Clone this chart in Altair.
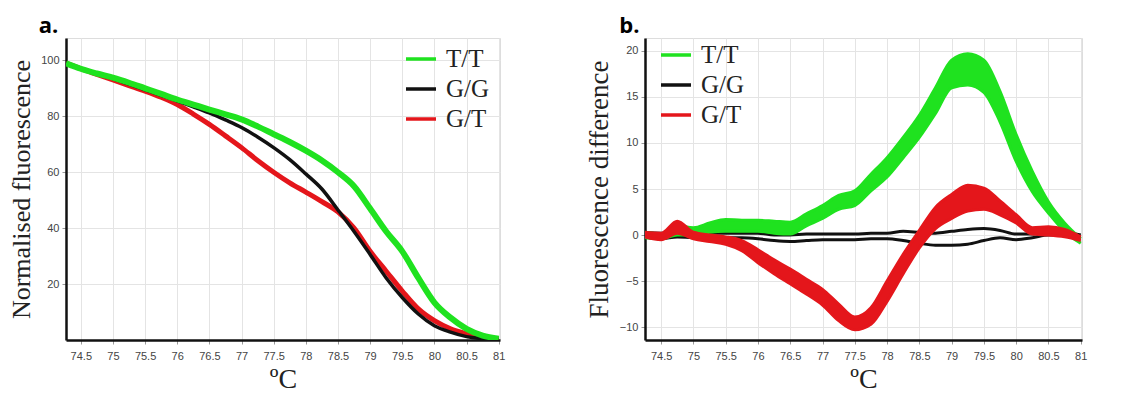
import altair as alt
import pandas as pd

# ---------------- data ----------------
GENOS = ["T/T", "G/G", "G/T"]
COLORS = ["#1fe21f", "#111111", "#e4161b"]

# Panel a: normalised fluorescence
X_A = [74.27, 74.5, 74.75, 75.0, 75.25, 75.5, 75.75, 76.0, 76.25, 76.5, 76.75, 77.0, 77.25, 77.5,
       77.75, 78.0, 78.25, 78.5, 78.75, 79.0, 79.25, 79.5, 79.75, 80.0, 80.25, 80.5, 80.75, 81.0]
TT_A = [99, 97, 95.3, 93.8, 92, 90, 88, 86, 84.2, 82.4, 80.7, 78.9, 76.4, 73.6,
        70.8, 67.7, 64.2, 60, 55, 47, 38.8, 31.7, 22.2, 13.4, 8, 4, 1.6, 0.5]
GG_A = [99, 97, 95.2, 93.5, 91.5, 89.5, 87.5, 85.5, 83.4, 81.2, 78.7, 76, 72.6, 68.8,
        64.5, 59.4, 54, 46.5, 38.8, 30.6, 22.2, 15.2, 9.3, 5.1, 2.8, 1.2, 0.5, 0.3]
GT_A = [99, 97, 95, 93, 91, 89, 86.8, 84.2, 80.8, 77.1, 73, 68.8, 64.2, 60,
        56.2, 52.9, 49.5, 45.8, 40, 31.7, 24.6, 17.5, 11.1, 6.9, 4, 2.2, 0.8, 0.3]

# Panel b: fluorescence difference (upper / lower edge of each replicate band)
X_B = [74.25, 74.5, 74.75, 75.0, 75.25, 75.5, 75.75, 76.0, 76.25, 76.5, 76.75, 77.0, 77.25, 77.5,
       77.75, 78.0, 78.25, 78.5, 78.75, 79.0, 79.25, 79.5, 79.75, 80.0, 80.25, 80.5, 80.75, 81.0]
TT_B_UP = [0.3, 0.1, 1.0, 0.8, 1.3, 1.7, 1.6, 1.6, 1.5, 1.4, 2.3, 3.2, 4.3, 4.8,
           6.6, 8.4, 10.6, 13.0, 16.0, 19.0, 19.7, 19.0, 15.6, 10.9, 6.9, 3.6, 1.3, -0.4]
TT_B_LO = [-0.3, -0.4, 0.0, 0.0, 0.3, 0.4, 0.4, 0.4, 0.2, 0.1, 1.0, 1.8, 2.8, 3.2,
           4.8, 6.3, 8.4, 10.6, 13.2, 16.0, 16.3, 15.5, 12.3, 8.0, 4.7, 2.4, 0.4, -0.9]
GT_B_UP = [0.3, 0.2, 1.5, 0.3, 0.0, -0.2, -0.6, -1.6, -2.7, -3.7, -4.8, -5.9, -7.5, -8.9,
           -7.9, -5.0, -2.1, 0.5, 3.0, 4.4, 5.4, 5.1, 3.7, 2.2, 0.8, 0.9, 0.6, -0.2]
GT_B_LO = [-0.2, -0.5, 0.2, -0.4, -0.7, -1.0, -1.7, -3.0, -4.2, -5.3, -6.4, -7.6, -9.3, -10.3,
           -9.7, -7.2, -4.2, -1.4, 0.7, 1.8, 2.6, 2.8, 2.2, 1.3, 0.1, 0.0, -0.2, -0.6]
GG_B_UP = [0.3, 0.2, 0.3, 0.2, 0.2, 0.2, 0.2, 0.2, 0.0, 0.0, 0.1, 0.1, 0.1, 0.1,
           0.2, 0.2, 0.4, 0.3, 0.2, 0.4, 0.6, 0.7, 0.5, 0.1, 0.1, 0.6, 0.4, 0.0]
GG_B_LO = [-0.2, -0.4, -0.2, -0.3, -0.3, -0.3, -0.3, -0.4, -0.6, -0.7, -0.6, -0.5, -0.5, -0.5,
           -0.4, -0.4, -0.6, -0.9, -1.1, -1.1, -1.0, -0.6, -0.3, -0.5, -0.3, 0.0, 0.0, -0.3]

X_TICKS = [74.5, 75, 75.5, 76, 76.5, 77, 77.5, 78, 78.5, 79, 79.5, 80, 80.5, 81]
Y_TICKS_A = [20, 40, 60, 80, 100]
Y_TICKS_B = [-10, -5, 0, 5, 10, 15, 20]

# ---------------- tables ----------------
rows_a = []
for g, ys in zip(GENOS, [TT_A, GG_A, GT_A]):
    for x, y in zip(X_A, ys):
        rows_a.append({"x": x, "y": y, "g": g})
df_a = pd.DataFrame(rows_a)

rows_b = []
band_rows = []
for g, up, lo in zip(GENOS, [TT_B_UP, GG_B_UP, GT_B_UP], [TT_B_LO, GG_B_LO, GT_B_LO]):
    for x, u, l in zip(X_B, up, lo):
        rows_b.append({"x": x, "y": u, "g": g, "edge": "up"})
        rows_b.append({"x": x, "y": l, "g": g, "edge": "lo"})
        band_rows.append({"x": x, "u": u, "l": l, "g": g})
df_b = pd.DataFrame(rows_b)
df_band = pd.DataFrame(band_rows)

# ---------------- styling ----------------
SERIF = "Liberation Serif"
TICKFONT = "Liberation Sans Narrow, Liberation Sans"
color_scale = alt.Scale(domain=GENOS, range=COLORS)


def legend(lx, ly):
    return alt.Legend(title=None, orient="none", legendX=lx, legendY=ly,
                      symbolType="stroke", symbolSize=900, symbolStrokeWidth=3.5,
                      labelFont=SERIF, labelFontSize=25, labelColor="#222",
                      rowPadding=0, labelOffset=8, symbolOpacity=1)


def x_axis():
    return alt.Axis(values=X_TICKS, format="~f", title="ºC", titleFont=SERIF,
                    titleFontSize=28, titleFontWeight="normal", titleColor="#222",
                    labelFont=TICKFONT, labelFontSize=11, labelColor="#444",
                    tickSize=4, tickColor="#999", domainColor="#111", domainWidth=2.5,
                    gridColor="#e4e4e4", labelPadding=6, titlePadding=4)


def y_axis(title, values, size):
    return alt.Axis(values=values, title=title, titleFont=SERIF, titleFontSize=size,
                    titleFontWeight="normal", titleColor="#222",
                    labelFont=TICKFONT, labelFontSize=11, labelColor="#444",
                    tickSize=4, tickColor="#999", domainColor="#111", domainWidth=2.5,
                    gridColor="#e4e4e4", labelPadding=3, titlePadding=6)


def title(t, dx):
    return alt.TitleParams(text=t, anchor="start", frame="bounds", font="Open Sans",
                           fontSize=22, fontWeight="bold", color="#000", dx=dx, offset=0)


# ---------------- panel a ----------------
xa = alt.X("x:Q", scale=alt.Scale(domain=[74.27, 81.02], nice=False, zero=False), axis=x_axis())
ya = alt.Y("y:Q", scale=alt.Scale(domain=[0, 108], nice=False),
           axis=y_axis("Normalised fluorescence", Y_TICKS_A, 26))
ca = alt.Color("g:N", scale=color_scale, legend=legend(338, 4), sort=GENOS)

layers_a = []
for g, w in [("G/T", 5), ("G/G", 3.5), ("T/T", 6)]:
    layers_a.append(
        alt.Chart(df_a).transform_filter(alt.datum.g == g)
        .mark_line(strokeWidth=w, interpolate="monotone", clip=True)
        .encode(x=xa, y=ya, color=ca)
    )
panel_a = alt.layer(*layers_a).properties(width=434, height=302, title=title("a.", 30))

# ---------------- panel b ----------------
xb = alt.X("x:Q", scale=alt.Scale(domain=[74.25, 81.02], nice=False, zero=False), axis=x_axis())
yb_scale = alt.Scale(domain=[-11.4, 21.4], nice=False, zero=False)
yb_axis = y_axis("Fluorescence difference", Y_TICKS_B, 27)
yb = alt.Y("y:Q", scale=yb_scale, axis=yb_axis)
cb = alt.Color("g:N", scale=color_scale, legend=legend(14, 0), sort=GENOS)

layers_b = []
for g, col, w in [("G/G", None, 3), ("T/T", COLORS[0], 3), ("G/T", COLORS[2], 3)]:
    if col is not None:
        layers_b.append(
            alt.Chart(df_band).transform_filter(alt.datum.g == g)
            .mark_area(color=col, opacity=1, interpolate="monotone", clip=True)
            .encode(x=xb, y=alt.Y("u:Q", scale=yb_scale, axis=yb_axis), y2="l:Q")
        )
    layers_b.append(
        alt.Chart(df_b).transform_filter(alt.datum.g == g)
        .mark_line(strokeWidth=w, interpolate="monotone", clip=True)
        .encode(x=xb, y=yb, color=cb, detail="edge:N")
    )
panel_b = alt.layer(*layers_b).properties(width=437, height=302, title=title("b.", 34))

chart = (
    alt.hconcat(panel_a, panel_b, spacing=78)
    .resolve_scale(color="independent")
    .resolve_legend(color="independent")
    .properties(padding={"left": 0, "top": 6, "right": 0, "bottom": 0})
    .configure_view(stroke="#7a7a7a", strokeWidth=1.5)
    .configure(background="white")
)

chart.save("out.html", embed_options={"renderer": "svg", "actions": False})
